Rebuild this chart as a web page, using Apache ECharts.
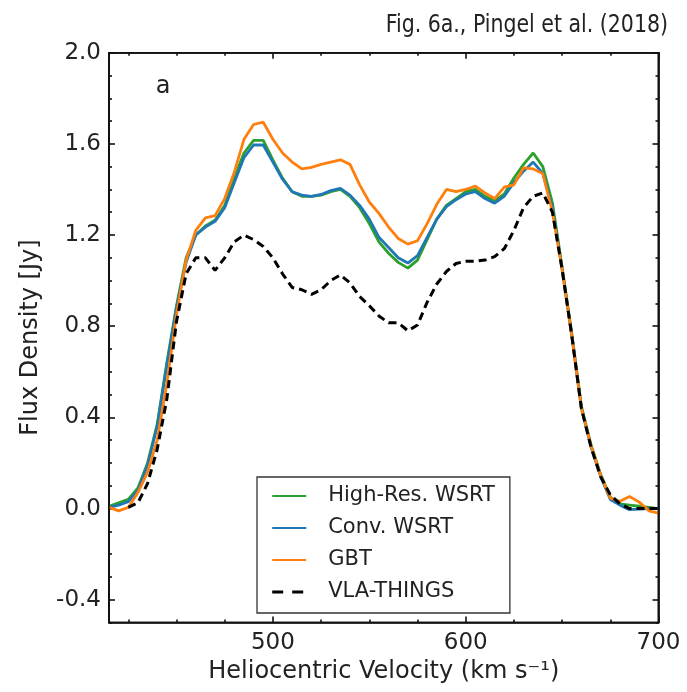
<!DOCTYPE html>
<html>
<head>
<meta charset="utf-8">
<script src="https://cdn.jsdelivr.net/npm/echarts@6/dist/echarts.min.js"></script>
<style>
html,body{margin:0;padding:0;background:#fff;}
#chart{width:687px;height:692px;}
</style>
</head>
<body>
<div id="chart"></div>
<script>
// ---- data ----
const velocity = [
  415,420,425,430,435,440,445,450,455,460,
  465,470,475,480,485,490,495,500,505,510,
  515,520,525,530,535,540,545,550,555,560,
  565,570,575,580,585,590,595,600,605,610,
  615,620,625,630,635,640,645,650,655,660,
  665,670,675,680,685,690,695,700
];
const highResWSRT = [
  0.01,0.025,0.04,0.09,0.20,0.37,0.64,0.89,1.10,1.20,
  1.24,1.265,1.33,1.45,1.56,1.615,1.615,1.53,1.45,1.39,
  1.37,1.37,1.375,1.39,1.40,1.37,1.32,1.25,1.17,1.12,
  1.08,1.055,1.09,1.18,1.27,1.33,1.36,1.39,1.40,1.37,
  1.35,1.38,1.45,1.51,1.56,1.50,1.34,1.06,0.77,0.45,
  0.28,0.15,0.05,0.02,0.015,0.01,0.005,0.0
];
const convWSRT = [
  0.005,0.015,0.03,0.08,0.19,0.36,0.63,0.88,1.08,1.20,
  1.235,1.26,1.32,1.43,1.54,1.595,1.595,1.52,1.445,1.39,
  1.375,1.37,1.378,1.395,1.405,1.375,1.33,1.27,1.19,1.145,
  1.10,1.077,1.11,1.19,1.27,1.325,1.355,1.38,1.39,1.36,
  1.34,1.37,1.43,1.48,1.52,1.47,1.32,1.05,0.76,0.44,
  0.27,0.14,0.04,0.015,-0.005,-0.003,0.0,0.0
];
const gbt = [
  0.005,-0.01,0.005,0.07,0.16,0.30,0.55,0.85,1.09,1.22,
  1.275,1.285,1.36,1.476,1.62,1.685,1.695,1.62,1.56,1.52,
  1.49,1.497,1.51,1.52,1.53,1.51,1.42,1.345,1.295,1.235,
  1.185,1.16,1.175,1.25,1.335,1.40,1.39,1.40,1.415,1.385,
  1.36,1.41,1.42,1.495,1.49,1.47,1.30,1.05,0.76,0.44,
  0.275,0.145,0.045,0.032,0.053,0.028,-0.01,-0.02
];
const vlaTHINGS = [
  null,null,0.005,0.025,0.11,0.26,0.48,0.82,1.03,1.10,
  1.10,1.045,1.10,1.17,1.20,1.18,1.15,1.10,1.03,0.97,
  0.96,0.94,0.96,1.00,1.025,0.99,0.93,0.89,0.845,0.815,
  0.815,0.78,0.805,0.905,0.985,1.04,1.075,1.085,1.085,1.09,
  1.105,1.14,1.22,1.32,1.37,1.385,1.30,1.05,0.76,0.44,
  0.27,0.14,0.06,0.02,0.0,0.0,0.0,0.0
];
const seriesNames = ['High-Res. WSRT','Conv. WSRT','GBT','VLA-THINGS'];
const xRange = [415, 700];
const yRange = [-0.5, 2.0];
const xMajorTicks = [500,600,700];
const xMinorTicks = [425,450,475,525,550,575,625,650,675];
const yMajorTicks = [-0.4,0.0,0.4,0.8,1.2,1.6,2.0];
const yMinorTicks = [-0.5,-0.3,-0.2,-0.1,0.1,0.2,0.3,0.5,0.6,0.7,0.9,1.0,1.1,1.3,1.4,1.5,1.7,1.8,1.9];
const titleText = 'Fig. 6a., Pingel et al. (2018)';
const panelLabel = 'a';

// ---- layout ----
const W = 687, H = 692;
const G = {left:109, right:28.5, top:52.7, bottom:69.5};
const FONT = 'DejaVu Sans';
const INK = '#222';
const chart = echarts.init(document.getElementById('chart'), null, {renderer:'canvas', width:W, height:H});

function pairs(vals){ return velocity.map((v,i)=>[v, vals[i]]); }

function xAxisDef(pos, ticks, len, showLine, showLabel, extra){
  return Object.assign({
    type:'value', min:xRange[0], max:xRange[1], position:pos,
    axisLine:{show:showLine, onZero:false, lineStyle:{color:'#111', width:1.6}},
    axisTick:{show:true, inside:true, length:len, customValues:ticks, lineStyle:{color:'#111', width:1.6}},
    axisLabel:{show:showLabel, customValues:xMajorTicks, fontFamily:FONT, fontSize:23, color:INK, margin:9},
    splitLine:{show:false}
  }, extra||{});
}
function yAxisDef(pos, ticks, len, showLine, showLabel, extra){
  return Object.assign({
    type:'value', min:yRange[0], max:yRange[1], position:pos,
    axisLine:{show:showLine, onZero:false, lineStyle:{color:'#111', width:1.6}},
    axisTick:{show:true, inside:true, length:len, customValues:ticks, lineStyle:{color:'#111', width:1.6}},
    axisLabel:{show:showLabel, customValues:yMajorTicks, fontFamily:FONT, fontSize:23, color:INK, margin:8,
      formatter:(v)=>v.toFixed(1)},
    splitLine:{show:false}
  }, extra||{});
}

const option = {
  animation:false,
  backgroundColor:'#fff',
  grid:{left:G.left, right:G.right, top:G.top, bottom:G.bottom, containLabel:false, outerBoundsMode:'none',
    show:true, borderColor:'#111', borderWidth:1.6},
  xAxis:[
    xAxisDef('bottom', xMajorTicks, 6, true, true, {
      name:'Heliocentric Velocity (km s\u207B\u00B9)', nameLocation:'middle', nameGap:33,
      nameTextStyle:{fontFamily:FONT, fontSize:24, color:INK}
    }),
    xAxisDef('bottom', xMinorTicks, 3, false, false),
    xAxisDef('top', xMajorTicks, 6, true, false),
    xAxisDef('top', xMinorTicks, 3, false, false)
  ],
  yAxis:[
    yAxisDef('left', yMajorTicks, 6, true, true, {
      name:'Flux Density [Jy]', nameLocation:'middle', nameGap:66, nameRotate:90,
      nameTextStyle:{fontFamily:FONT, fontSize:24, color:INK}
    }),
    yAxisDef('left', yMinorTicks, 3, false, false),
    yAxisDef('right', yMajorTicks, 6, true, false),
    yAxisDef('right', yMinorTicks, 3, false, false)
  ],
  legend:{
    orient:'vertical', left:257, top:477,
    padding:[8,15,10,13.7],
    backgroundColor:'#fff', borderColor:'#333', borderWidth:1.3, borderRadius:0,
    itemWidth:34, itemHeight:14, itemGap:10,
    itemStyle:{opacity:0},
    textStyle:{fontFamily:FONT, fontSize:21, color:INK, lineHeight:22, padding:[0,0,0,17]},
    data:[
      {name:seriesNames[0]},
      {name:seriesNames[1]},
      {name:seriesNames[2]},
      {name:seriesNames[3], lineStyle:{type:[11,9], width:3}}
    ]
  },
  graphic:[
    {type:'text', x:668, y:26, scaleX:0.95, style:{text:titleText, align:'right', verticalAlign:'middle',
      font:'24px "DejaVu Sans Condensed", "DejaVu Sans", sans-serif', fill:INK}},
    {type:'text', x:163, y:87, style:{text:panelLabel, align:'center', verticalAlign:'middle',
      font:'24px "DejaVu Sans"', fill:INK}},
    {type:'rect', z:100, zlevel:0, silent:true,
      shape:{x:G.left, y:G.top, width:W-G.left-G.right, height:H-G.top-G.bottom},
      style:{fill:'none', stroke:'#111', lineWidth:1.6}}
  ],
  series:[
    {name:seriesNames[0], type:'line', data:pairs(highResWSRT), symbol:'none', xAxisIndex:0, yAxisIndex:0,
      lineStyle:{color:'#2ca02c', width:2.8}, itemStyle:{color:'#2ca02c'}, z:2},
    {name:seriesNames[1], type:'line', data:pairs(convWSRT), symbol:'none',
      lineStyle:{color:'#1f77b4', width:2.8}, itemStyle:{color:'#1f77b4'}, z:3},
    {name:seriesNames[2], type:'line', data:pairs(gbt), symbol:'none',
      lineStyle:{color:'#ff7f0e', width:2.8}, itemStyle:{color:'#ff7f0e'}, z:4},
    {name:seriesNames[3], type:'line', data:pairs(vlaTHINGS), symbol:'none', connectNulls:false,
      lineStyle:{color:'#000', width:3, type:[8,5]}, itemStyle:{color:'#000'}, z:5}
  ]
};
chart.setOption(option);
</script>
</body>
</html>
